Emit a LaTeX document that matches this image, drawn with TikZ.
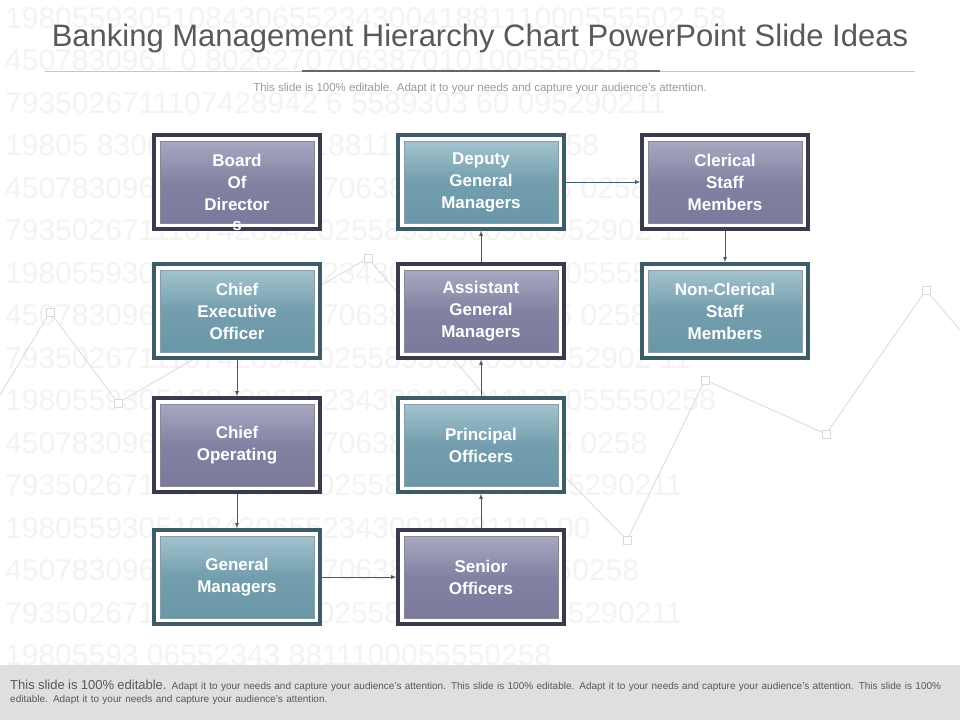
\documentclass[tikz,border=0pt]{standalone}
\usepackage{fontspec}
\setmainfont{Liberation Sans}
\begin{document}
\begin{tikzpicture}[x=1pt,y=-1pt]
\definecolor{pur}{HTML}{7B7A9C}\definecolor{purl}{HTML}{A9A8C2}
\definecolor{teal}{HTML}{6A97A8}\definecolor{teall}{HTML}{A3C3CE}
\definecolor{pfr}{HTML}{3A3A4C}\definecolor{tfr}{HTML}{3E5C68}
\definecolor{bgnum}{HTML}{F3F3F3}
\tikzset{
 frame/.style={draw=#1,line width=3.5pt,fill=white,minimum width=166pt,minimum height=94pt},
 pbox/.style={top color=purl,bottom color=pur,middle color=pur!85!purl,draw=pfr!60,line width=0.8pt,minimum width=154pt,minimum height=82pt,text=white,font=\bfseries\fontsize{17}{22}\selectfont,align=center},
 tbox/.style={top color=teall,bottom color=teal,middle color=teal!85!teall,draw=tfr!60,line width=0.8pt,minimum width=154pt,minimum height=82pt,text=white,font=\bfseries\fontsize{17}{22}\selectfont,align=center},
 arr/.style={-latex,draw=tfr,line width=0.8pt},
 num/.style={text=bgnum,font=\fontsize{30}{30}\selectfont,anchor=west,inner sep=0}
}
\useasboundingbox (0,0) rectangle (960,720);
\fill[white] (0,0) rectangle (960,720);
\begin{scope}
\clip (0,0) rectangle (960,665);
\foreach \y/\s in {18/19805593051084306552343004188111000555502 58,60/4507830961 0    80262707063870101005550258,103/7935026711107428942 6  5589303 60   095290211,145/19805     8306552343001188111000555502 58,188/4507830961078026270706387010100555 0258,230/793502671110742894202558930360960952902 11,273/1980559305108430655234300118811100055550258,315/4507830961078026270706387010100555 0258,358/793502671110742894202558930360960952902 11,400/1980559305108430655234300118811100055550258,443/4507830961078026270706387010100555 0258,485/79350267111074289420255893036096095290211,528/198055930510843065523430011881110 00,570/45078309610780262707063870101005550258,613/79350267111074289420255893036096095290211,655/19805593    06552343        8811100055550258}
  \node[num] (n\y) at (5,\y) {\s};
\end{scope}
\draw[gray!25,line width=1pt] (0,395) -- (50,312) -- (118,403) -- (368,258) -- (480,390) -- (627,540) -- (705,380) -- (826,434) -- (926,290) -- (960,330);
\foreach \p in {(50,312),(118,403),(368,258),(627,540),(705,380),(826,434),(926,290)}
  \draw[gray!30,fill=white] \p ++(-4,-4) rectangle ++(8,8);
\node[text=black!65,font=\fontsize{31}{34}\selectfont] (title) at (480,38) {Banking Management Hierarchy Chart PowerPoint Slide Ideas};
\draw[gray!45,line width=1pt] (45,71) -- (915,71);
\draw[black!60,line width=2.5pt] (302,71) -- (660,71);
\node[text=gray!80,font=\fontsize{11.5}{13}\selectfont] (sub) at (480,89) {This slide is 100\% editable. Adapt it to your needs and capture your audience's attention.};
\foreach \n/\x/\y/\c in {f1/237/182/pfr,f2/481/182/tfr,f3/725/182/pfr,f4/237/311/tfr,f5/481/311/pfr,f6/725/311/tfr,f7/237/445/pfr,f8/481/445/tfr,f9/237/577/tfr,f10/481/577/pfr}
  \node[frame=\c] (\n) at (\x,\y) {};
\foreach \n/\st/\t in {f1/pbox/{Board\\Of\\Director},f2/tbox/{Deputy\\General\\Managers},f3/pbox/{Clerical\\Staff\\Members},f4/tbox/{Chief\\Executive\\Officer},f5/pbox/{Assistant\\General\\Managers},f6/tbox/{Non-Clerical\\Staff\\Members},f7/pbox/{Chief\\Operating},f8/tbox/{Principal\\Officers},f9/tbox/{General\\Managers},f10/pbox/{Senior\\Officers}}
  \node[\st] (i\n) at (\n) {\t};
\node[text=white,font=\bfseries\fontsize{17}{22}\selectfont,inner sep=0] (s) at (237,226) {s};
\draw[arr] (f4.south) -- (f7.north);
\draw[arr] (f7.south) -- (f9.north);
\draw[arr] (f9.east) -- (f10.west);
\draw[arr] (f10.north) -- (f8.south);
\draw[arr] (f8.north) -- (f5.south);
\draw[arr] (f5.north) -- (f2.south);
\draw[arr] (f2.east) -- (f3.west);
\draw[arr] (f3.south) -- (f6.north);
\fill[gray!25] (0,665) rectangle (960,720);
\node[anchor=north west,align=left,text=black!65,inner sep=0,text width=940pt,font=\fontsize{10}{13}\selectfont] (foot) at (10,680) {{\fontsize{13}{13}\selectfont This slide is 100\% editable.} Adapt it to your needs and capture your audience's attention. This slide is 100\% editable. Adapt it to your needs and capture your audience's attention. This slide is 100\% editable. Adapt it to your needs and capture your audience's attention.};
\end{tikzpicture}
\end{document}
